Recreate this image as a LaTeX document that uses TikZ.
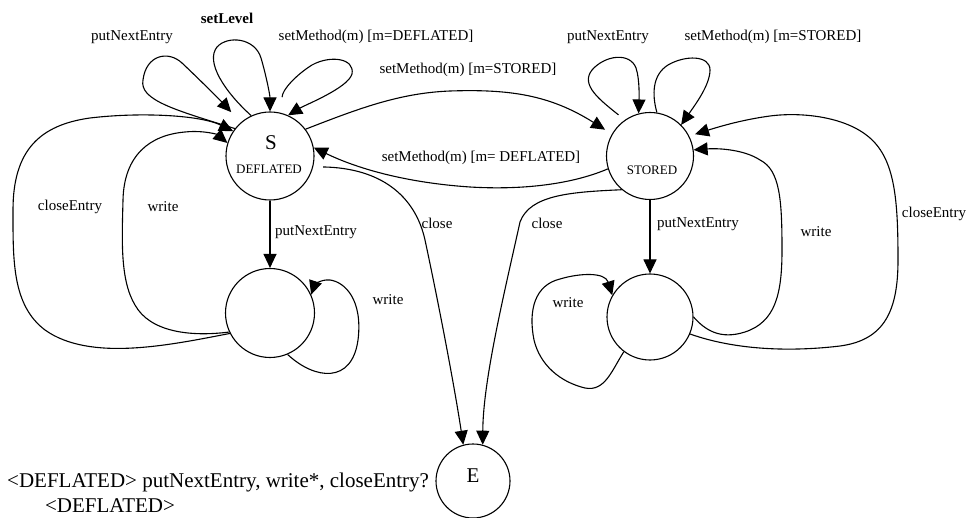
\documentclass[tikz,border=0pt]{standalone}
\usepackage{fontspec}
\setmainfont{Liberation Serif}
\usetikzlibrary{arrows.meta}

\tikzset{
  state/.style={draw, circle, line width=1.1pt, inner sep=0pt},
  edge/.style={line width=1.1pt, -{Triangle[length=14pt,width=13pt]}},
  lbl/.style={inner sep=0pt, font=\fontsize{15}{18}\selectfont},
  big/.style={inner sep=0pt, font=\fontsize{21}{25}\selectfont},
  small/.style={inner sep=0pt, font=\fontsize{13}{15}\selectfont}
}

\begin{document}
\begin{tikzpicture}[x=1pt, y=-1pt]
\useasboundingbox (0,0) rectangle (968,518);

% states
\node[state, minimum size=88pt] (S) at (270,156) {};
\node[state, minimum size=87pt] (T) at (650,156) {};
\node[state, minimum size=89pt] (A) at (270,313) {};
\node[state, minimum size=86pt] (B) at (650,317) {};
\node[state, minimum size=74pt] (E) at (473,481) {};

% state captions
\node[big] (Sname) at (271,143) {S};
\node[small] (Sdef) at (269,169) {DEFLATED};
\node[small] (Tsto) at (652,170) {STORED};
\node[big] (Ename) at (473,476) {E};

% loops on the DEFLATED start state
\draw[edge, shorten >=14pt] (S.142) .. controls (175,110) and (139,100) .. (143,80)
  .. controls (146,55) and (168,50) .. (182,63) .. controls (200,80) and (220,100) .. (S.131);
\draw[edge] (S.115) .. controls (225,92) and (205,62) .. (217,47)
  .. controls (228,35) and (255,38) .. (261,58) .. controls (266,75) and (270,95) .. (S.90);
\draw[edge, shorten <=16pt] (S.74) .. controls (282,90) and (296,75) .. (312,65)
  .. controls (330,55) and (355,58) .. (352,74) .. controls (348,88) and (305,105) .. (S.66);

% back edges into the DEFLATED start state
\draw[edge] (A.207) .. controls (170,345) and (90,362) .. (45,330)
  .. controls (12,305) and (13,260) .. (13,210)
  .. controls (13,150) and (40,125) .. (90,118)
  .. controls (140,112) and (200,115) .. (S.146);
\draw[edge] (A.205) .. controls (190,337) and (150,332) .. (135,305)
  .. controls (120,280) and (122,240) .. (123,200)
  .. controls (124,155) and (150,135) .. (185,132)
  .. controls (205,130) and (218,135) .. (S.163);

\draw[edge] (S) -- (A);
\draw[edge] (A.-67) .. controls (315,380) and (352,384) .. (358,340)
  .. controls (363,300) and (345,282) .. (330,280)
  .. controls (320,279) and (314,286) .. (A.24);

% close transitions
\draw[edge, shorten <=10pt] (S.-14) .. controls (380,168) and (415,195) .. (425,240)
  .. controls (440,310) and (455,390) .. (E.105);
\draw[edge] (T.-130) .. controls (570,192) and (530,195) .. (520,222)
  .. controls (505,290) and (483,380) .. (E.75);

% method switches
\draw[edge, shorten >=8pt] (S.37) .. controls (360,108) and (400,93) .. (450,91)
  .. controls (510,89) and (550,95) .. (T.150);
\draw[edge] (T.197) .. controls (570,185) and (520,190) .. (470,187)
  .. controls (410,183) and (360,170) .. (S.11);

% loops on the STORED state
\draw[edge, shorten <=8pt] (T.125) .. controls (600,100) and (580,85) .. (592,70)
  .. controls (605,55) and (630,52) .. (636,68) .. controls (640,80) and (639,100) .. (T.105);
\draw[edge] (T.81) .. controls (652,95) and (652,75) .. (668,65)
  .. controls (685,55) and (710,55) .. (710,70) .. controls (710,85) and (695,105) .. (T.45);

\draw[edge] (T) -- (B);
\draw[edge, shorten >=6pt] (B.-23) .. controls (735,350) and (790,352) .. (840,346)
  .. controls (885,340) and (898,310) .. (898,260)
  .. controls (898,200) and (895,160) .. (870,138)
  .. controls (845,116) and (800,112) .. (770,116)
  .. controls (740,120) and (715,128) .. (T.27);
\draw[edge] (B.0) .. controls (705,330) and (720,340) .. (745,332)
  .. controls (775,322) and (782,295) .. (782,250)
  .. controls (782,200) and (780,170) .. (760,160)
  .. controls (745,150) and (720,148) .. (T.8);
\draw[edge] (B.233) .. controls (612,370) and (605,392) .. (585,388)
  .. controls (560,382) and (540,365) .. (534,340)
  .. controls (528,310) and (535,285) .. (560,279)
  .. controls (580,273) and (605,272) .. (B.150);

% transition labels
\node[lbl] (l1) at (132,37) {putNextEntry};
\node[lbl, font=\fontsize{15}{18}\selectfont\bfseries] (l2) at (227,18) {setLevel};
\node[lbl] (l3) at (376,37) {setMethod(m) [m=DEFLATED]};
\node[lbl] (l4) at (468,70) {setMethod(m) [m=STORED]};
\node[lbl] (l5) at (481,158) {setMethod(m) [m= DEFLATED]};
\node[lbl] (l6) at (608,37) {putNextEntry};
\node[lbl] (l7) at (773,37) {setMethod(m) [m=STORED]};
\node[lbl] (l8) at (70,207) {closeEntry};
\node[lbl] (l9) at (163,207) {write};
\node[lbl] (l10) at (316,232) {putNextEntry};
\node[lbl] (l11) at (437,223) {close};
\node[lbl] (l12) at (388,300) {write};
\node[lbl] (l13) at (547,223) {close};
\node[lbl] (l14) at (698,224) {putNextEntry};
\node[lbl] (l15) at (816,232) {write};
\node[lbl] (l16) at (934,214) {closeEntry};
\node[lbl] (l17) at (568,303) {write};

% grammar caption
\node[big, anchor=west] (g1) at (7,482) {<DEFLATED> putNextEntry, write*, closeEntry?};
\node[big] (g2) at (110,506) {<DEFLATED>};
\end{tikzpicture}
\end{document}
